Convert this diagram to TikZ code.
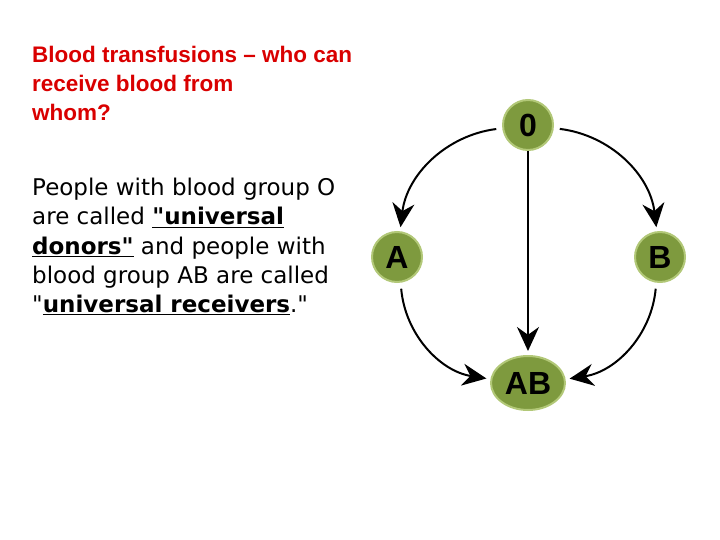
\documentclass[tikz,border=0pt]{standalone}
\usepackage{fontspec}
\newfontfamily\bodyfont{DejaVu Sans}
\newfontfamily\titlefont{Liberation Sans}
\usetikzlibrary{positioning,arrows.meta,shapes.geometric}
\definecolor{leaf}{RGB}{126,154,62}
\definecolor{halo}{RGB}{178,200,120}

\begin{document}
\begin{tikzpicture}[x=1pt,y=-1pt,
    group/.style={circle,fill=leaf,draw=halo,line width=2pt,inner sep=0pt,minimum size=50pt,font=\titlefont\bfseries\fontsize{32}{32}\selectfont},
    give/.style={line width=2pt,-{Stealth[length=24pt,width=22pt]},shorten <=6pt,shorten >=4pt}]
    \useasboundingbox (0,0) rectangle (720,540);
    \node[group] (O) at (528,125) {0};
    \node[group] (A) at (397,257) {A};
    \node[group] (B) at (660,257) {B};
    \node[group,ellipse,minimum width=74pt,minimum height=54pt] (AB) at (528,383) {AB};

    \draw[give] (O) to[bend right=38] (A);
    \draw[give] (O) to[bend left=38] (B);
    \draw[give] (A) to[bend right=38] (AB);
    \draw[give] (B) to[bend left=38] (AB);
    \draw[give,shorten <=0pt] (O) -- (AB);

    \node[anchor=north west,align=left,text=red!85!black,inner sep=0pt,
          font=\titlefont\bfseries\fontsize{22.5}{29}\selectfont] (title) at (32,46)
        {Blood transfusions – who can\\receive blood from\\whom?};
    \node[anchor=north west,align=left,inner sep=0pt,
          font=\bodyfont\fontsize{23}{29.3}\selectfont] (text) at (32,178)
        {People with blood group O\\are called \underline{\textbf{"universal}}\\
         \underline{\textbf{donors"}} and people with\\blood group AB are called\\
         "\underline{\textbf{universal receivers}}."};
\end{tikzpicture}
\end{document}
